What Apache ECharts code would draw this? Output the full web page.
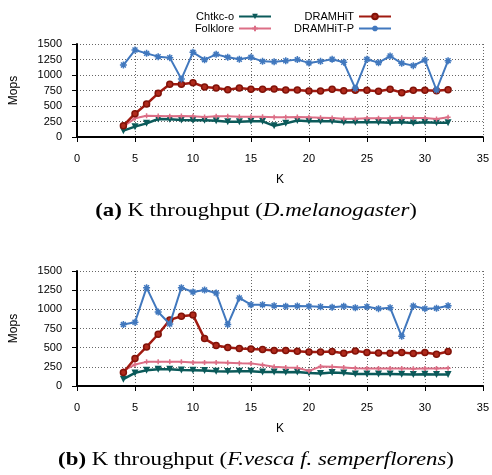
<!DOCTYPE html>
<html><head><meta charset="utf-8">
<script src="https://cdn.jsdelivr.net/npm/echarts@6/dist/echarts.min.js"></script>
<style>html,body{margin:0;padding:0;background:#fff}#c{width:492px;height:475px}</style>
</head><body><div id="c"></div>
<script>
const kValues = [4,5,6,7,8,9,10,11,12,13,14,15,16,17,18,19,20,21,22,23,24,25,26,27,28,29,30,31,32];
const seriesNames = ['Chtkc-o','Folklore','DRAMHiT','DRAMHiT-P'];
// (a) D.melanogaster
const chtkcA = [102,167,220,290,285,274,269,269,263,247,247,253,253,180,220,265,253,253,253,237,237,237,237,231,237,226,237,231,231];
const folkloreA = [170,301,344,339,333,339,333,323,333,333,328,328,328,318,317,323,317,312,306,296,296,301,301,306,312,306,306,290,317];
const dramhitA = [183,376,532,704,849,849,876,806,790,763,790,769,769,774,758,758,742,742,769,747,753,753,737,769,715,753,753,747,763];
const dramhitPA = [1161,1403,1349,1296,1280,935,1366,1247,1333,1285,1253,1285,1220,1213,1230,1248,1195,1220,1255,1205,785,1253,1199,1306,1188,1151,1242,758,1231];
// (b) F.vesca f. semperflorens
const chtkcB = [89,171,206,219,219,210,206,202,193,189,193,193,184,184,180,184,171,163,176,171,158,158,158,158,154,150,154,150,150];
const folkloreB = [200,280,315,315,315,315,306,306,306,302,297,295,275,250,240,237,197,255,250,241,232,228,228,228,228,224,228,228,232];
const dramhitB = [176,358,510,675,862,909,926,618,527,501,488,484,475,462,462,454,445,445,449,427,458,436,432,427,436,423,436,414,449];
const dramhitPB = [801,831,1283,966,809,1283,1226,1252,1213,801,1148,1061,1061,1048,1039,1044,1039,1035,1026,1039,1022,1035,1009,1022,648,1044,1009,1013,1048];
const xTicks = [0,5,10,15,20,25,30,35];
const yTicks = [0,250,500,750,1000,1250,1500];
const captionA = '{b|(a)} K throughput ({i|D.melanogaster})';
const captionB = '{b|(b)} K throughput ({i|F.vesca f. semperflorens})';

const colors = ['#0b5a5a','#dc6e86','#a01a10','#4178be'];
const starPath = 'path://M5,0L5,10M0,5L10,5M1.5,1.5L8.5,8.5M8.5,1.5L1.5,8.5';
const plusPath = 'path://M5,0L5,10M0,5L10,5';
const sans = '"Liberation Sans", Arial, sans-serif';
const serif = '"Liberation Serif", "DejaVu Serif", serif';

function pairs(arr){ return kValues.map((k,i)=>[k,arr[i]]); }

function mkSeries(idx, data, axis){
  const base = {type:'line', name: seriesNames[idx], xAxisIndex: axis, yAxisIndex: axis,
    data: pairs(data), color: colors[idx], z: 2+idx};
  if(idx===0){ Object.assign(base,{symbol:'triangle', symbolRotate:180, symbolSize:7,
      itemStyle:{color:colors[0]}, lineStyle:{color:colors[0], width:2.5}}); }
  if(idx===1){ Object.assign(base,{symbol:plusPath, symbolSize:5,
      itemStyle:{color:colors[1], borderColor:colors[1], borderWidth:1.5}, lineStyle:{color:colors[1], width:2}}); }
  if(idx===2){ Object.assign(base,{symbol:'circle', symbolSize:6,
      itemStyle:{color:'#b02a1c', borderColor:'#801208', borderWidth:1.5}, lineStyle:{color:colors[2], width:2.5}}); }
  if(idx===3){ Object.assign(base,{symbol:starPath, symbolSize:7,
      itemStyle:{color:colors[3], borderColor:colors[3], borderWidth:1.5}, lineStyle:{color:colors[3], width:2}}); }
  return base;
}

function xAx(gi){
  return {type:'value', gridIndex: gi, min: xTicks[0], max: xTicks[xTicks.length-1], interval: 5,
    name:'K', nameLocation:'middle', nameGap:37, nameTextStyle:{fontFamily:sans, fontSize:12, color:'#000'},
    axisLine:{show:true, lineStyle:{color:'#000', width:2}},
    axisTick:{show:true, length:5, lineStyle:{color:'#000', width:1}},
    axisLabel:{fontFamily:sans, fontSize:11, color:'#000', margin:16},
    splitLine:{show:true, lineStyle:{color:'#666', type:[1,2], width:1}}};
}
function yAx(gi){
  return {type:'value', gridIndex: gi, min: yTicks[0], max: yTicks[yTicks.length-1], interval: 250,
    name:'Mops', nameLocation:'middle', nameGap:57, nameRotate:90, nameTextStyle:{fontFamily:sans, fontSize:12, color:'#000'},
    axisLine:{show:true, lineStyle:{color:'#000', width:2}},
    axisTick:{show:true, length:5, lineStyle:{color:'#000', width:1}},
    axisLabel:{fontFamily:sans, fontSize:11, color:'#000', margin:15, formatter: v => String(v)},
    splitLine:{show:true, lineStyle:{color:'#666', type:[1,2], width:1}}};
}
function leg(name, right, top){
  return {data:[name], align:'right', right: right, top: top, padding:0, itemWidth:32, itemHeight:7,
    textStyle:{fontFamily:sans, fontSize:11, color:'#000'}, selectedMode:false};
}

const richStyle = {
  b:{fontFamily:serif, fontSize:19, fontWeight:'bold', fill:'#000'},
  i:{fontFamily:serif, fontSize:19, fontStyle:'italic', fill:'#000'}
};

const chart = echarts.init(document.getElementById('c'), null, {renderer:'canvas'});
chart.setOption({
  animation:false,
  backgroundColor:'#fff',
  grid:[{left:74, top:44, width:410, height:93},{left:74, top:271, width:410, height:115}],
  xAxis:[xAx(0), xAx(1)],
  yAxis:[yAx(0), yAx(1)],
  legend:[leg('Chtkc-o',220,11), leg('Folklore',220,23), leg('DRAMHiT',100,11), leg('DRAMHiT-P',100,23)],
  series:[
    mkSeries(0,chtkcA,0), mkSeries(1,folkloreA,0), mkSeries(2,dramhitA,0), mkSeries(3,dramhitPA,0),
    mkSeries(0,chtkcB,1), mkSeries(1,folkloreB,1), mkSeries(2,dramhitB,1), mkSeries(3,dramhitPB,1)
  ],
  graphic:[
    {type:'text', x:256, y:211, scaleX:1.2, style:{text:captionA, rich:richStyle, fontFamily:serif, fontSize:19, fill:'#000', align:'center', verticalAlign:'middle'}},
    {type:'text', x:256, y:460, scaleX:1.2, style:{text:captionB, rich:richStyle, fontFamily:serif, fontSize:19, fill:'#000', align:'center', verticalAlign:'middle'}}
  ]
});
</script></body></html>
